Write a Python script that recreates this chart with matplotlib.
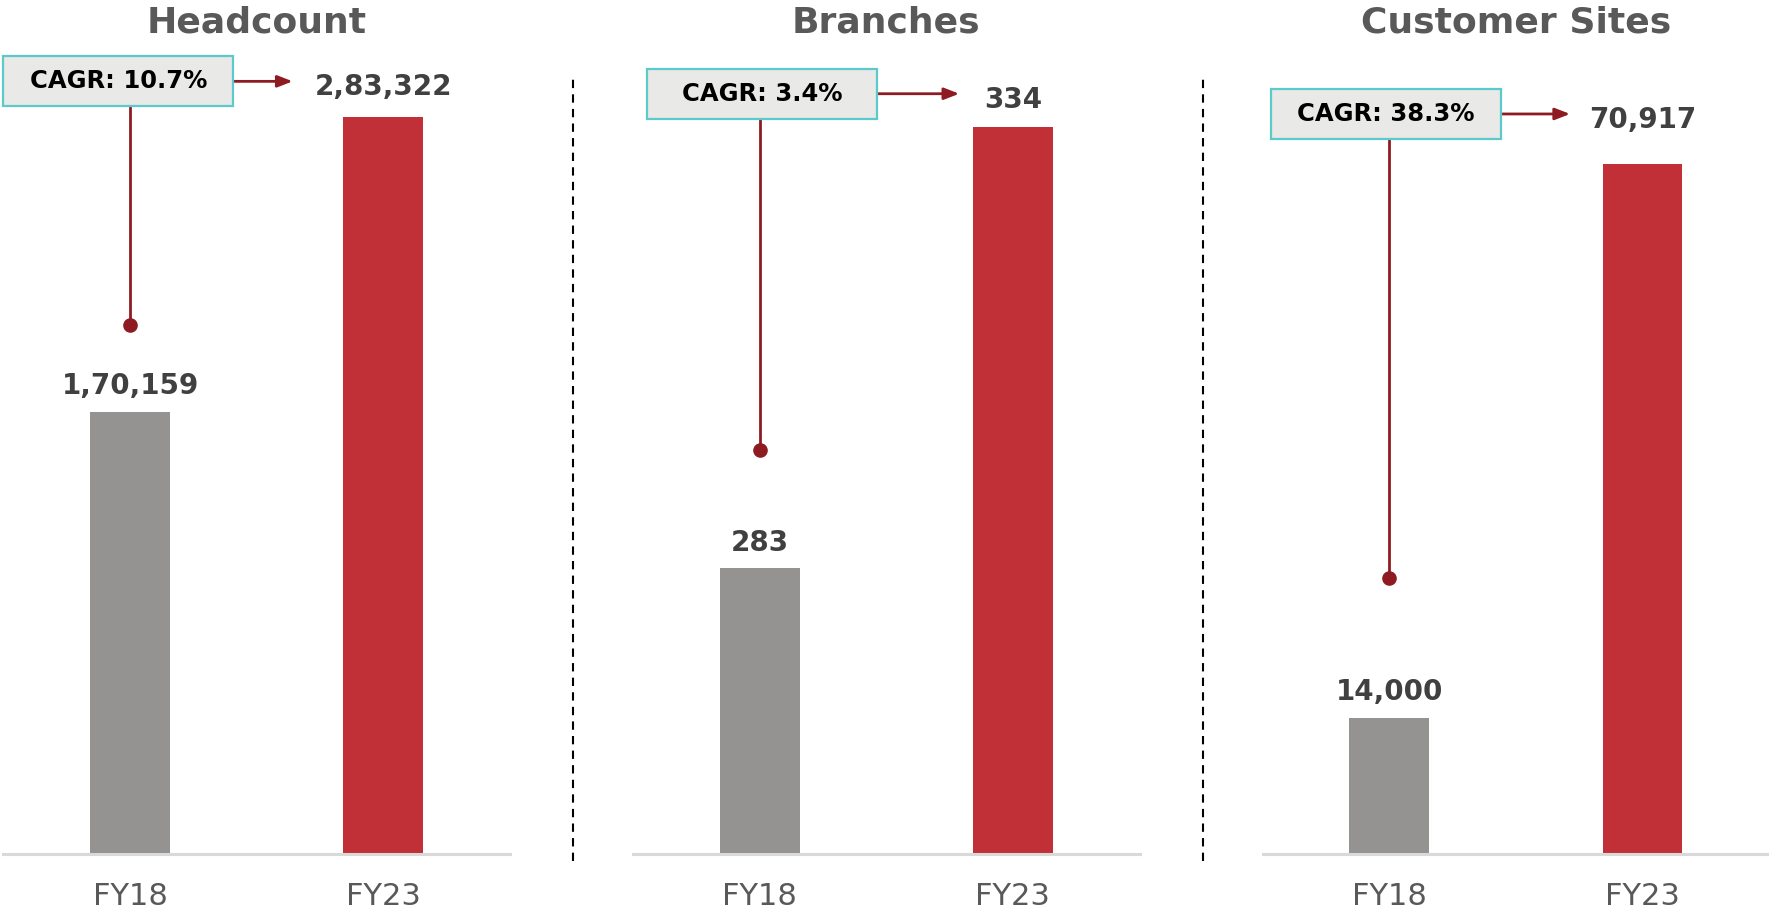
import matplotlib
matplotlib.use("Agg")
import matplotlib.pyplot as plt
from matplotlib.patches import Rectangle
from matplotlib.lines import Line2D
from matplotlib.transforms import blended_transform_factory

# data
titles = ["Headcount", "Branches", "Customer Sites"]
years = ["FY18", "FY23"]
fy18 = [170159, 283, 14000]
fy23 = [283322, 334, 70917]
labels18 = ["1,70,159", "283", "14,000"]
labels23 = ["2,83,322", "334", "70,917"]
cagr = ["CAGR: 10.7%", "CAGR: 3.4%", "CAGR: 38.3%"]

# layout (axes fractions unless noted)
ylims = [(0, 328440), (250, 348.7), (0, 87720)]
lefts = [0.0019, 0.3578, 0.7137]
box_left = [0.0, 0.028, 0.016]
box_top = [0.934, 0.9195, 0.8958]
box_w, box_h = 0.454, 0.0585
arrow_tip = [0.571, 0.644, 0.607]
dot_y = [0.619, 0.473, 0.3236]

grey = "#949391"
red = "#C23037"
dark_red = "#8E1B22"
text_grey = "#595959"

fig = plt.figure(figsize=(17.69, 9.18), dpi=100)

for i in range(3):
    ax = fig.add_axes([lefts[i], 0.0697, 0.2864, 0.9303])
    ax.bar([0, 1], [fy18[i], fy23[i]], width=0.315, color=[grey, red], zorder=2)
    ax.set_xlim(-0.5, 1.5)
    ax.set_ylim(*ylims[i])
    ax.set_xticks([0, 1])
    ax.set_xticklabels(years, fontsize=22, color=text_grey)
    ax.tick_params(axis="x", length=0, pad=20)
    ax.set_yticks([])
    for s in ["top", "left", "right"]:
        ax.spines[s].set_visible(False)
    ax.spines["bottom"].set_color("#D9D9D9")
    ax.spines["bottom"].set_linewidth(2.2)

    ax.text(0.5, 0.9614, titles[i], transform=ax.transAxes, ha="center",
            va="baseline", fontsize=26, fontweight="bold", color=text_grey)

    tr = blended_transform_factory(ax.transData, ax.transAxes)

    # FY18 value above its bar
    ax.annotate(labels18[i], (0, fy18[i]), xytext=(0, 12.5), textcoords="offset points",
                ha="center", va="baseline", fontsize=20, fontweight="bold",
                color="#404040")

    # CAGR box
    by = box_top[i] - box_h
    ax.add_patch(Rectangle((box_left[i], by), box_w, box_h, transform=ax.transAxes,
                           facecolor="#E9E9E8", edgecolor="#5CC9CB", linewidth=1.6,
                           zorder=5, clip_on=False))
    cy = by + box_h / 2
    ax.text(box_left[i] + box_w / 2, cy, cagr[i], transform=ax.transAxes,
            ha="center", va="center", fontsize=17.5, fontweight="bold",
            color="black", zorder=6)

    # FY23 value at the end of the arrow
    ax.annotate(labels23[i], (1, cy), xycoords=tr, xytext=(0, -10),
                textcoords="offset points", ha="center", va="baseline",
                fontsize=20, fontweight="bold", color="#404040")

    # arrow to FY23 value
    ax.annotate("", xy=(arrow_tip[i], cy), xytext=(box_left[i] + box_w, cy),
                xycoords="axes fraction", textcoords="axes fraction",
                arrowprops=dict(arrowstyle="-|>,head_length=0.9,head_width=0.35",
                                color=dark_red, lw=2, shrinkA=0, shrinkB=0))

    # connector down to FY18 bar
    ax.plot([0, 0], [by, dot_y[i]], transform=tr, color=dark_red, lw=2,
            zorder=4, clip_on=False)
    ax.plot([0], [dot_y[i]], transform=tr, marker="o", markersize=9.5,
            color=dark_red, zorder=4, clip_on=False)

# dashed dividers
for x in [573 / 1769, 1202.6 / 1769]:
    fig.add_artist(Line2D([x, x], [0.062, 0.918], transform=fig.transFigure,
                          color="black", lw=1.5, linestyle=(0, (4, 3))))

fig.savefig("out.png", dpi=100)
